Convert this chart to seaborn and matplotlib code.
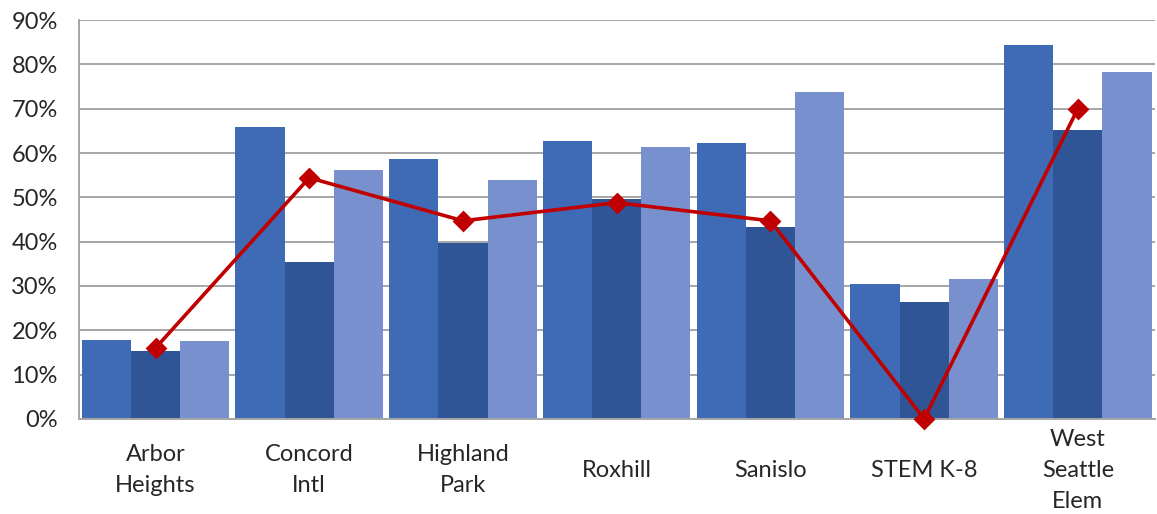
import pandas as pd
import seaborn as sns
import matplotlib.pyplot as plt
from matplotlib.ticker import PercentFormatter

# chart data
schools = ['Arbor\nHeights', 'Concord\nIntl', 'Highland\nPark', 'Roxhill',
           'Sanislo', 'STEM K-8', 'West\nSeattle\nElem']
series_names = ['Series 1', 'Series 2', 'Series 3']
series1 = [17.8, 65.9, 58.6, 62.8, 62.3, 30.5, 84.4]
series2 = [15.3, 35.3, 39.7, 49.7, 43.2, 26.3, 65.1]
series3 = [17.6, 56.2, 54.0, 61.4, 73.7, 31.6, 78.3]
line_vals = [16.0, 54.4, 44.7, 48.8, 44.7, 0.0, 70.0]
yticks = [0, 10, 20, 30, 40, 50, 60, 70, 80, 90]

sns.set_style('white')
plt.rcParams['font.family'] = ['Lato', 'DejaVu Sans']

df = pd.DataFrame({
    'School': schools * 3,
    'Series': [s for s in series_names for _ in schools],
    'Value': series1 + series2 + series3,
})
df_line = pd.DataFrame({'School': schools, 'Value': line_vals})

fig = plt.figure(figsize=(11.57, 5.14), dpi=100)
ax = fig.add_axes([0.068, 0.185, 0.93, 0.776])

palette = ['#3F6AB5', '#2F5597', '#7891CE']
sns.barplot(data=df, x='School', y='Value', hue='Series', palette=palette,
            width=0.96, gap=0, saturation=1, legend=False, linewidth=0,
            ax=ax, zorder=2)
sns.pointplot(data=df_line, x='School', y='Value', color='#C00000',
              markers='D', markersize=9.5, linewidth=2.6, ax=ax)
for coll in ax.lines + ax.collections:
    coll.set_clip_on(False)
    coll.set_zorder(5)

ax.set_ylim(0, 90)
ax.set_yticks(yticks)
ax.yaxis.set_major_formatter(PercentFormatter(decimals=0))
ax.set_xlim(-0.5, 6.5)
ax.grid(axis='y', color='#A6A6A6', linewidth=1.4, zorder=0)
ax.set_axisbelow(True)
for side in ['top', 'right']:
    ax.spines[side].set_visible(False)
for side in ['left', 'bottom']:
    ax.spines[side].set_color('#A6A6A6')
    ax.spines[side].set_linewidth(1.4)
ax.tick_params(axis='y', length=7, width=1.4, color='#A6A6A6', labelsize=17, pad=8)
ax.tick_params(axis='x', length=0, labelsize=17, pad=37)
for lab in ax.get_xticklabels():
    lab.set_va('center')
    lab.set_linespacing(1.58)
ax.set_xlabel('')
ax.set_ylabel('')

plt.savefig('out.png', dpi=100)
